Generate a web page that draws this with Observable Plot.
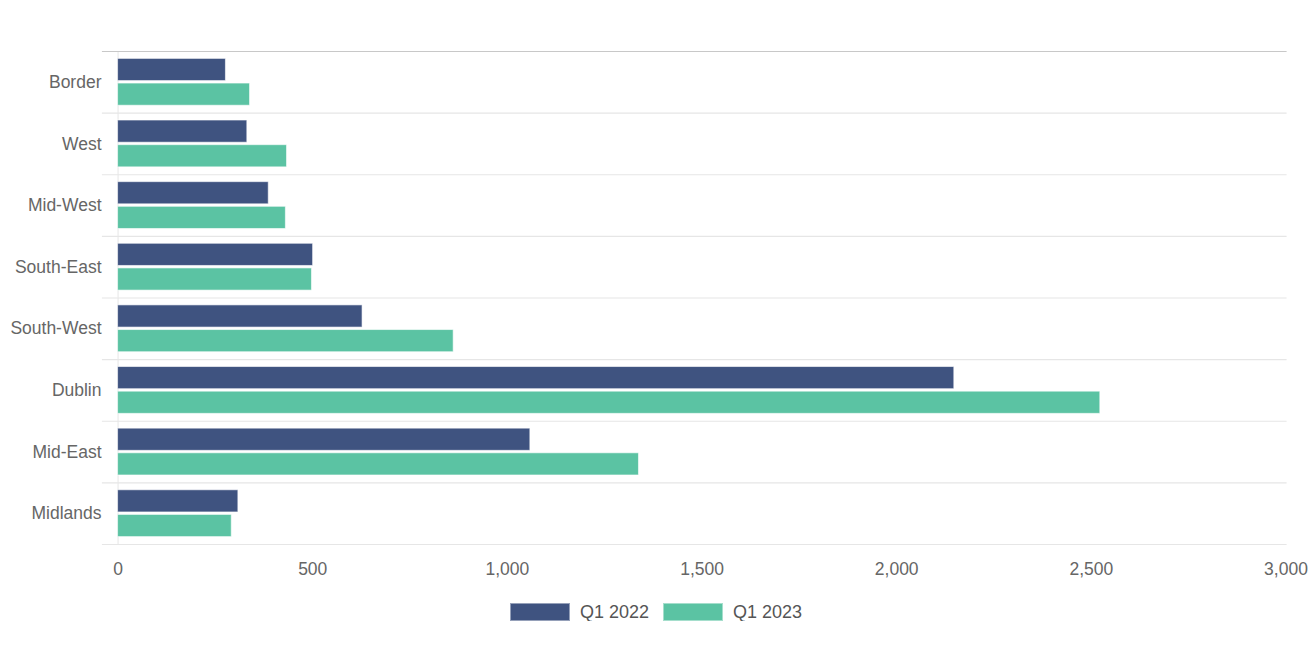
<!DOCTYPE html>
<html>
<head>
<meta charset="utf-8">
<script src="https://cdn.jsdelivr.net/npm/d3@7"></script>
<script src="https://cdn.jsdelivr.net/npm/@observablehq/plot@0.6"></script>
<style>
  body { margin: 0; background: #fff; font-family: "Liberation Sans", Arial, sans-serif; }
  #chart svg { display: block; }
  .legend { display: flex; justify-content: center; align-items: center; margin-top: 13px; height: 18px; font-size: 18px; color: #555; }
  .legend .item { display: flex; align-items: center; margin: 0 7px; }
  .legend .sw { width: 60px; height: 18px; margin-right: 10px; box-sizing: border-box; border: 1px solid rgba(255,255,255,0.45); }
</style>
</head>
<body>
<div id="chart"></div>
<script>
const regions = ["Border", "West", "Mid-West", "South-East", "South-West", "Dublin", "Mid-East", "Midlands"];
const seriesNames = ["Q1 2022", "Q1 2023"];
const q1_2022 = [277, 332, 387, 501, 628, 2148, 1059, 309];
const q1_2023 = [339, 434, 431, 498, 862, 2523, 1338, 292];
const xTicks = [0, 500, 1000, 1500, 2000, 2500, 3000];
const colors = ["#3f5380", "#5bc3a3"];

const data = [];
regions.forEach((r, i) => {
  data.push({region: r, series: seriesNames[0], value: q1_2022[i]});
  data.push({region: r, series: seriesNames[1], value: q1_2023[i]});
});

const plot = Plot.plot({
  width: 1312,
  height: 590,
  marginTop: 51,
  marginBottom: 46,
  marginLeft: 102,
  marginRight: 26.5,
  style: {fontFamily: "'Liberation Sans', Arial, sans-serif", fontSize: "17.5px", color: "#666"},
  fy: {domain: regions, padding: 0, round: false, label: null},
  y: {domain: seriesNames, paddingInner: 0.1, paddingOuter: 0.3, round: false, axis: null},
  x: {domain: [-40, 3000], label: null},
  color: {domain: seriesNames, range: colors},
  marks: [
    Plot.ruleX([0], {stroke: "#e6e6e6", strokeWidth: 1}),
    Plot.frame({anchor: "bottom", stroke: "#e6e6e6", strokeWidth: 1.2}),
    Plot.frame({anchor: "top", fy: "Border", stroke: "#c8c8c8", strokeWidth: 1.2}),
    Plot.barX(data, {fy: "region", y: "series", x1: 0, x2: "value", fill: "series", stroke: "white", strokeOpacity: 0.6, strokeWidth: 1}),
    Plot.axisX({anchor: "bottom", ticks: xTicks, tickSize: 0, tickPadding: 18, tickFormat: d3.format(","), fill: "#666", fontSize: "17.5px"}),
    Plot.axisFy({anchor: "left", tickSize: 0, tickPadding: 1, fill: "#666", fontSize: "17.5px", label: null})
  ]
});
document.getElementById("chart").appendChild(plot);

const legend = d3.select("body").append("div").attr("class", "legend");
seriesNames.forEach((s, i) => {
  const item = legend.append("div").attr("class", "item");
  item.append("div").attr("class", "sw").style("background", colors[i]);
  item.append("span").text(s);
});
</script>
</body>
</html>
